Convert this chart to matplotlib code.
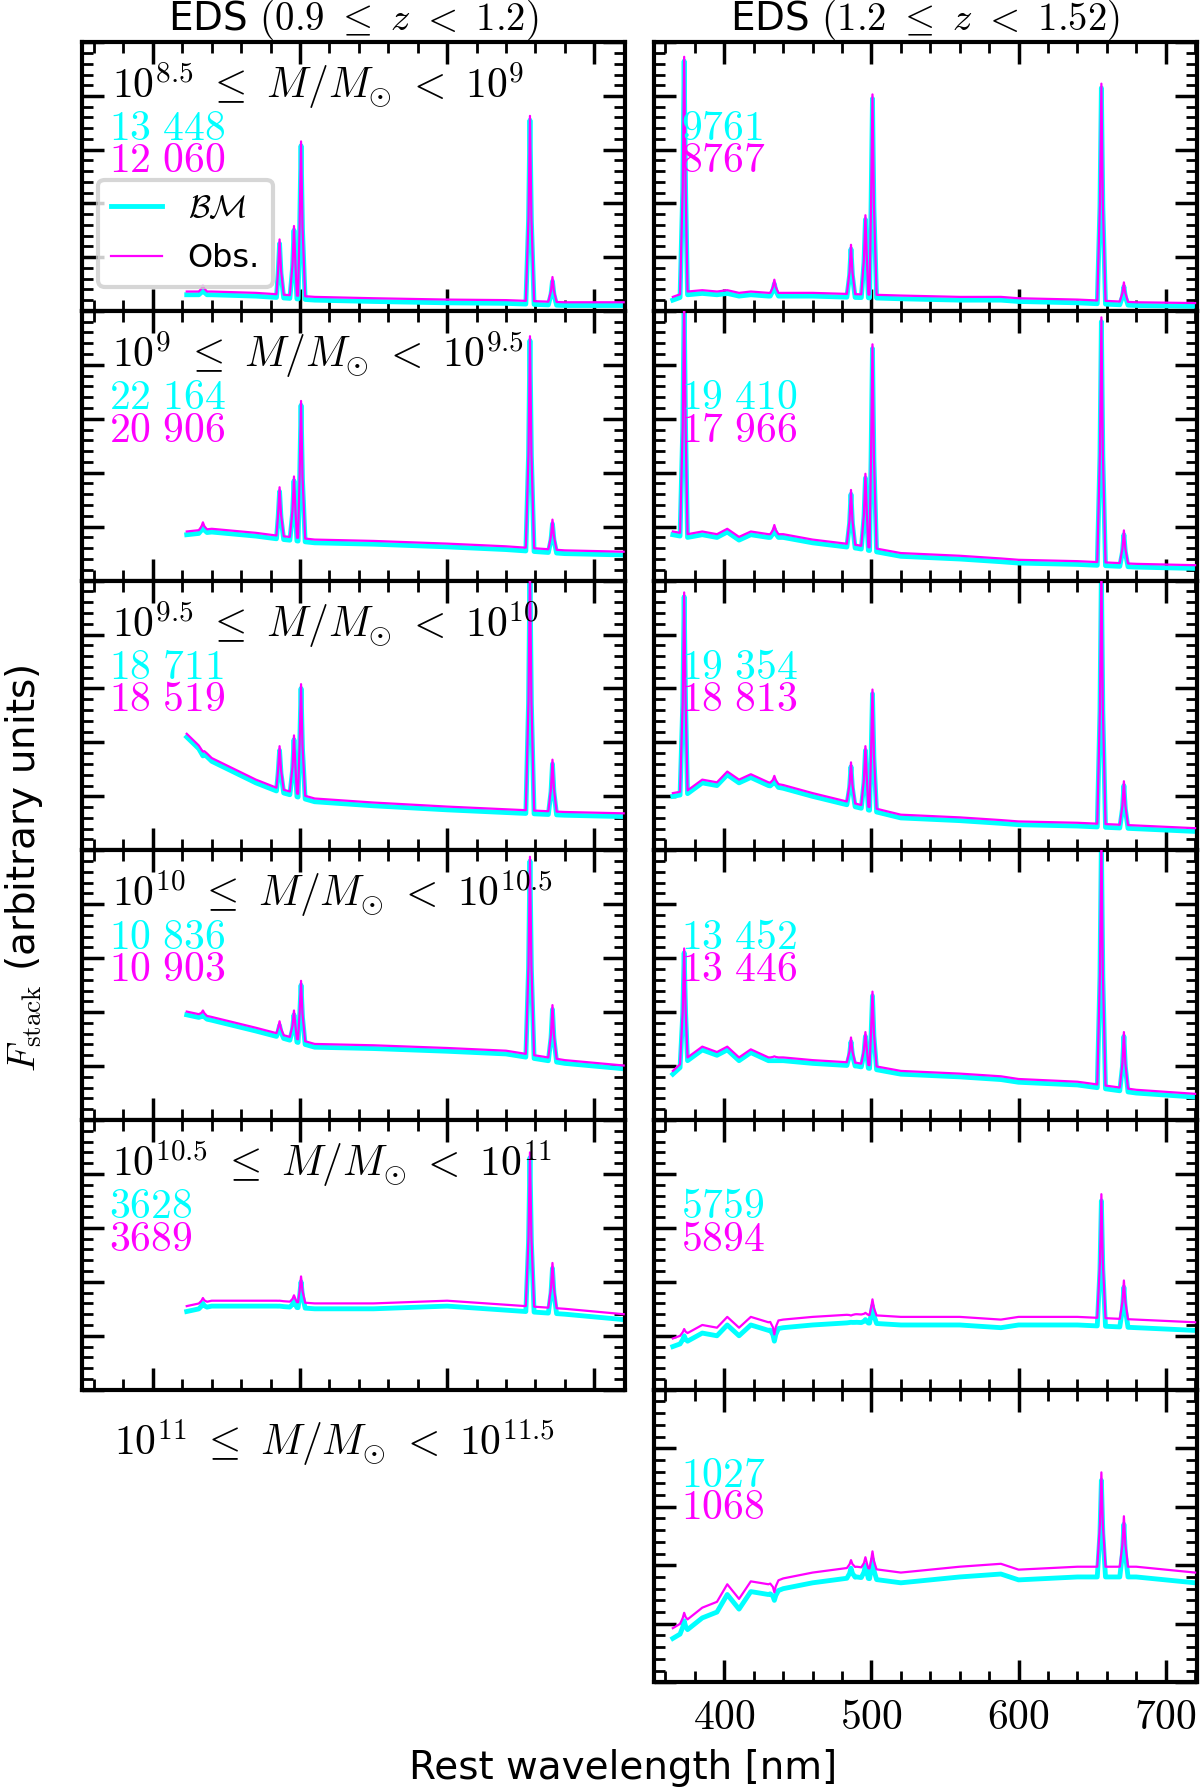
import numpy as np
import matplotlib
matplotlib.use("Agg")
import matplotlib.pyplot as plt
from matplotlib.ticker import MultipleLocator, AutoMinorLocator

plt.rcParams['mathtext.fontset'] = 'cm'
plt.rcParams['font.family'] = ['DejaVu Sans']

# ---------------- data ----------------
left_cont_wl = [423, 440, 470, 484, 510, 550, 600, 640, 680, 720]
left_cont = [
    [0.06, 0.06, 0.055, 0.05, 0.04, 0.035, 0.03, 0.028, 0.02, 0.02],
    [0.17, 0.18, 0.165, 0.155, 0.14, 0.135, 0.125, 0.115, 0.10, 0.095],
    [0.42, 0.33, 0.25, 0.22, 0.18, 0.165, 0.15, 0.14, 0.13, 0.125],
    [0.39, 0.37, 0.33, 0.31, 0.27, 0.265, 0.255, 0.245, 0.21, 0.19],
    [0.29, 0.31, 0.31, 0.31, 0.30, 0.30, 0.31, 0.295, 0.28, 0.26],
]
left_obs_offset = [0.012, 0.012, 0.012, 0.012, 0.02]
left_line_wl = [434.0, 486.1, 495.9, 500.7, 656.3, 671.6]
left_peaks = [
    [0.09, 0.26, 0.31, 0.625, 0.72, 0.12],
    [0.21, 0.34, 0.38, 0.66, 0.90, 0.22],
    [0.36, 0.38, 0.42, 0.61, 1.05, 0.33],
    [0.40, 0.36, 0.40, 0.51, 0.97, 0.42],
    [0.33, 0.32, 0.34, 0.41, 0.87, 0.46],
]

right_cont_wl = [365, 375, 385, 395, 402, 410, 418, 430, 440, 460, 490, 520, 560, 588, 600, 640, 680, 720]
right_cont = [
    [0.04, 0.06, 0.065, 0.06, 0.065, 0.055, 0.06, 0.055, 0.055, 0.055, 0.05, 0.045, 0.04, 0.04, 0.035, 0.03, 0.02, 0.017],
    [0.17, 0.16, 0.17, 0.16, 0.18, 0.15, 0.17, 0.16, 0.16, 0.14, 0.12, 0.09, 0.08, 0.07, 0.065, 0.06, 0.05, 0.045],
    [0.20, 0.21, 0.25, 0.24, 0.28, 0.25, 0.27, 0.24, 0.23, 0.20, 0.16, 0.12, 0.11, 0.10, 0.095, 0.09, 0.08, 0.07],
    [0.17, 0.22, 0.26, 0.24, 0.26, 0.22, 0.25, 0.22, 0.22, 0.21, 0.20, 0.17, 0.16, 0.15, 0.14, 0.13, 0.10, 0.085],
    [0.16, 0.18, 0.21, 0.20, 0.24, 0.20, 0.24, 0.22, 0.23, 0.24, 0.25, 0.24, 0.24, 0.23, 0.24, 0.24, 0.23, 0.22],
    [0.15, 0.18, 0.22, 0.24, 0.30, 0.25, 0.31, 0.30, 0.32, 0.34, 0.36, 0.34, 0.36, 0.37, 0.35, 0.36, 0.36, 0.34],
]
right_obs_offset = [0.012, 0.012, 0.012, 0.012, 0.03, 0.035]
right_line_wl = [372.7, 434.0, 486.1, 495.9, 500.7, 656.3, 671.6]
right_peaks = [
    [0.94, 0.11, 0.24, 0.35, 0.80, 0.84, 0.10],
    [1.05, 0.20, 0.33, 0.39, 0.87, 0.97, 0.18],
    [0.95, 0.27, 0.32, 0.38, 0.59, 1.05, 0.25],
    [0.63, 0.23, 0.30, 0.32, 0.47, 1.05, 0.32],
    [0.21, 0.19, 0.26, 0.27, 0.32, 0.71, 0.39],
    [0.22, 0.29, 0.40, 0.41, 0.43, 0.70, 0.55],
]

left_counts = [(r"13\ 448", r"12\ 060"), (r"22\ 164", r"20\ 906"), (r"18\ 711", r"18\ 519"),
               (r"10\ 836", r"10\ 903"), ("3628", "3689")]
right_counts = [("9761", "8767"), (r"19\ 410", r"17\ 966"), (r"19\ 354", r"18\ 813"),
                (r"13\ 452", r"13\ 446"), ("5759", "5894"), ("1027", "1068")]
mass_bins = [("8.5", "9"), ("9", "9.5"), ("9.5", "10"), ("10", "10.5"), ("10.5", "11"), ("11", "11.5")]


def build(cont_wl, cont, line_wl, peaks, off, width=2.8):
    wl = list(cont_wl)
    fl = [c + off for c in cont]
    for lw, pk in zip(line_wl, peaks):
        for dw, kind in ((-width, 0), (-width * 0.35, 2), (0, 1), (width * 0.35, 2), (width, 0)):
            w = lw + dw
            base = np.interp(w, cont_wl, cont) + off
            wl.append(w)
            if kind == 1:
                fl.append(pk + off * 0.5)
            elif kind == 2:
                fl.append(base + 0.45 * (pk + off * 0.5 - base))
            else:
                fl.append(base)
    order = np.argsort(wl)
    return np.array(wl)[order], np.array(fl)[order]


# ---------------- layout ----------------
W, H = 1200, 1792
fig = plt.figure(figsize=(12, 17.92), dpi=100)
sc = 1200 / 1050
row_edges_disp = [37, 272, 508, 744, 980, 1216, 1472]
col_x_disp = [(72, 547), (572, 1047)]


def make_ax(col, row):
    x0, x1 = [v * sc / W for v in col_x_disp[col]]
    ytop = row_edges_disp[row] * sc
    ybot = row_edges_disp[row + 1] * sc
    return fig.add_axes([x0, 1 - ybot / H, x1 - x0, (ybot - ytop) / H])


def style(ax, labels=False):
    ax.set_xlim(352, 721)
    ax.set_ylim(0, 1)
    ax.xaxis.set_major_locator(MultipleLocator(100))
    ax.xaxis.set_minor_locator(MultipleLocator(20))
    ax.yaxis.set_major_locator(MultipleLocator(0.2))
    ax.yaxis.set_minor_locator(AutoMinorLocator(5))
    ax.tick_params(which='both', direction='in', top=True, right=True)
    ax.tick_params(which='major', length=16, width=2.5)
    ax.tick_params(which='minor', length=8, width=2)
    ax.set_yticklabels([])
    if labels:
        ax.set_xticks([400, 500, 600, 700])
        ax.set_xticklabels(["$400$", "$500$", "$600$", "$700$"], fontsize=30)
        ax.tick_params(axis='x', pad=10)
    else:
        ax.set_xticklabels([])
    for s in ax.spines.values():
        s.set_linewidth(3)


def mass_text(lo, hi):
    return r"$10^{%s}\ \leq\ M/M_{\odot}\ <\ 10^{%s}$" % (lo, hi)


FS = 30
for col in range(2):
    nrows = 5 if col == 0 else 6
    for r in range(nrows):
        ax = make_ax(col, r)
        if col == 0:
            cw, cc, lw_, pk, off = left_cont_wl, left_cont[r], left_line_wl, left_peaks[r], left_obs_offset[r]
            counts = left_counts[r]
        else:
            cw, cc, lw_, pk, off = right_cont_wl, right_cont[r], right_line_wl, right_peaks[r], right_obs_offset[r]
            counts = right_counts[r]
        xb, yb = build(cw, cc, lw_, [p - 0.01 for p in pk], 0.0)
        xo, yo = build(cw, cc, lw_, pk, off)
        ax.plot(xb, yb, color='cyan', lw=3.5, label=r'$\mathcal{BM}$', zorder=2)
        ax.plot(xo, yo, color='magenta', lw=1.6, label='Obs.', zorder=3)
        style(ax, labels=(col == 1 and r == 5))
        if col == 0:
            ax.text(0.055, 0.84, mass_text(*mass_bins[r]), transform=ax.transAxes,
                    fontsize=FS, va='center', ha='left', zorder=5)
        ax.text(0.05, 0.68 if r < 5 else 0.71, "$" + counts[0] + "$", color='cyan',
                transform=ax.transAxes, fontsize=FS, va='center', zorder=5)
        ax.text(0.05, 0.56 if r < 5 else 0.60, "$" + counts[1] + "$", color='magenta',
                transform=ax.transAxes, fontsize=FS, va='center', zorder=5)
        if r == 0:
            if col == 0:
                ax.set_title(r"EDS $(0.9\ \leq\ z\ <\ 1.2)$", fontsize=28, pad=2)
                leg = ax.legend(loc='lower left', bbox_to_anchor=(0.0, 0.03), fontsize=23,
                                frameon=True, fancybox=True, handlelength=1.6,
                                borderpad=0.4, labelspacing=0.6)
                leg.get_frame().set_edgecolor('#cccccc')
                leg.get_frame().set_linewidth(3)
                leg.set_zorder(10)
            else:
                ax.set_title(r"EDS $(1.2\ \leq\ z\ <\ 1.52)$", fontsize=28, pad=2)

fig.text((100 * sc) / W, 1 - (1262 * sc) / H, mass_text(*mass_bins[5]), fontsize=FS,
         va='center', ha='left')

fig.text(0.02, 1 - (760 * sc) / H, r"$F_{\rm stack}$ (arbitrary units)", rotation=90,
         fontsize=28, va='center', ha='center')
fig.text((545 * sc) / W, 1 - (1547 * sc) / H, "Rest wavelength [nm]", fontsize=28,
         va='center', ha='center')

fig.savefig("out.png", dpi=100)
